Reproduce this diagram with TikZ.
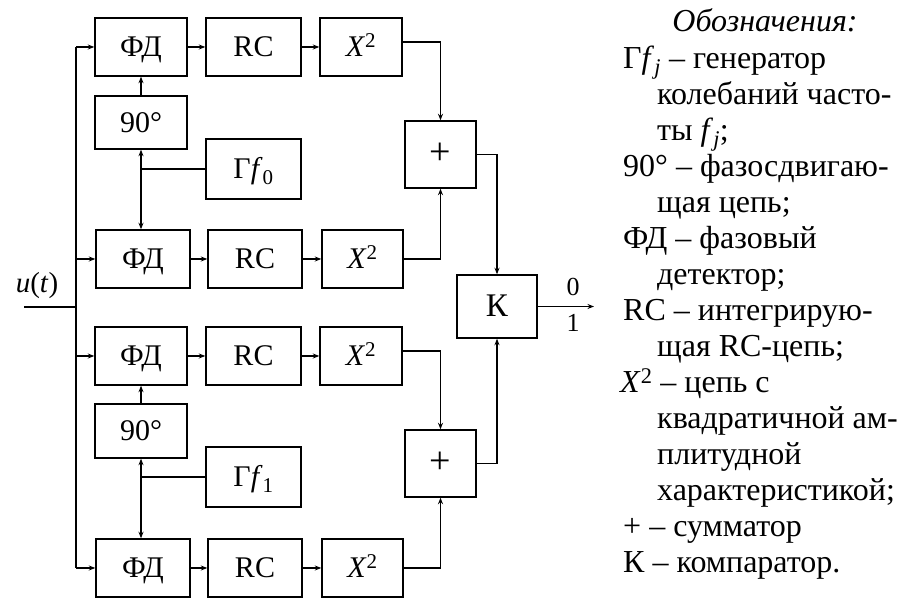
\documentclass[tikz,border=0pt]{standalone}
\usepackage{fontspec}
\setmainfont{Liberation Serif}
\usetikzlibrary{arrows.meta}
\begin{document}
\begin{tikzpicture}[x=1pt,y=-1pt,
  blk/.style={draw,line width=1.4pt,inner sep=0pt,text height=20pt,text depth=0pt,font=\fontsize{30}{32}\selectfont},
  wire/.style={line width=1.3pt},
  arr/.style={wire,-{Stealth[length=6.5pt,width=5pt]}},
  lab/.style={inner sep=0pt,font=\fontsize{26}{28}\selectfont},
  leg/.style={anchor=base west,inner sep=0pt,font=\fontsize{32}{36}\selectfont}]
\useasboundingbox (0,0) rectangle (898,601);
% blocks, upper half
\node[blk,minimum width=92pt,minimum height=58pt] (fd1) at (141,47) {ФД};
\node[blk,minimum width=95pt,minimum height=58pt] (rc1) at (253.5,47) {RC};
\node[blk,minimum width=82pt,minimum height=58pt] (xx1) at (361,47) {\textit{X}\textsuperscript{2}};
\node[blk,minimum width=92pt,minimum height=53pt] (ph1) at (141,122.5) {90°};
\node[blk,minimum width=95pt,minimum height=60pt] (g0) at (253.5,169) {Г\textit{f}\textsubscript{0}};
\node[blk,minimum width=94pt,minimum height=58pt] (fd2) at (143,259) {ФД};
\node[blk,minimum width=94pt,minimum height=58pt] (rc2) at (255,259) {RC};
\node[blk,minimum width=81pt,minimum height=58pt] (xx2) at (362.5,259) {\textit{X}\textsuperscript{2}};
\node[blk,minimum width=71pt,minimum height=67pt,font=\fontsize{38}{40}\selectfont] (s1) at (440.5,154.5) {+};
% comparator
\node[blk,minimum width=80pt,minimum height=63pt,font=\fontsize{33}{35}\selectfont] (k) at (497,306.5) {К};
% blocks, lower half
\node[blk,minimum width=92pt,minimum height=58pt] (fd3) at (141,356) {ФД};
\node[blk,minimum width=95pt,minimum height=58pt] (rc3) at (253.5,356) {RC};
\node[blk,minimum width=82pt,minimum height=58pt] (xx3) at (361,356) {\textit{X}\textsuperscript{2}};
\node[blk,minimum width=92pt,minimum height=54pt] (ph2) at (141,431) {90°};
\node[blk,minimum width=95pt,minimum height=60pt] (g1) at (253.5,477) {Г\textit{f}\textsubscript{1}};
\node[blk,minimum width=94pt,minimum height=58pt] (fd4) at (143,568) {ФД};
\node[blk,minimum width=94pt,minimum height=58pt] (rc4) at (255,568) {RC};
\node[blk,minimum width=81pt,minimum height=58pt] (xx4) at (362.5,568) {\textit{X}\textsuperscript{2}};
\node[blk,minimum width=71pt,minimum height=67pt,font=\fontsize{38}{40}\selectfont] (s2) at (440.5,463.5) {+};
% input and bus
\coordinate (in) at (24,307);
\coordinate (b1) at (76,47);
\coordinate (b4) at (76,568);
\node[lab,anchor=base,font=\fontsize{29}{31}\selectfont] (u) at (37,293) {\textit{u}(\textit{t})};
\draw[wire] (in) -- (in -| b1);
\draw[wire] (b1) -- (b4);
\draw[arr] (b1) -- (fd1.west);
\draw[arr] (b1 |- fd2.west) -- (fd2.west);
\draw[arr] (b1 |- fd3.west) -- (fd3.west);
\draw[arr] (b4) -- (fd4.west);
% chains
\draw[arr] (fd1) -- (rc1);
\draw[arr] (rc1) -- (xx1);
\draw[arr] (fd2) -- (rc2);
\draw[arr] (rc2) -- (xx2);
\draw[arr] (fd3) -- (rc3);
\draw[arr] (rc3) -- (xx3);
\draw[arr] (fd4) -- (rc4);
\draw[arr] (rc4) -- (xx4);
% phase shifters and generators
\draw[arr] (ph1) -- (fd1);
\coordinate (j0) at (ph1.south |- g0.west);
\draw[wire] (g0.west) -- (j0);
\draw[arr] (j0) -- (ph1.south);
\draw[arr] (j0) -- (j0 |- fd2.north);
\draw[arr] (ph2) -- (fd3);
\coordinate (j1) at (ph2.south |- g1.west);
\draw[wire] (g1.west) -- (j1);
\draw[arr] (j1) -- (ph2.south);
\draw[arr] (j1) -- (j1 |- fd4.north);
% to adders
\draw[arr] ([yshift=5pt]xx1.east) -| (s1.north);
\draw[arr] (xx2.east) -| (s1.south);
\draw[arr] ([yshift=5pt]xx3.east) -| (s2.north);
\draw[arr] (xx4.east) -| (s2.south);
% to comparator
\draw[arr] (s1.east) -| (k.north);
\draw[arr] (s2.east) -| (k.south);
\coordinate (out) at (594,306.5);
\draw[arr] (k.east) -- (out);
\node[lab] (o0) at (573,287) {0};
\node[lab] (o1) at (573,323) {1};
% legend
\node[leg,anchor=base] (leg0) at (765,32) {\textit{Обозначения:}};
\node[leg] (leg1) at (623,68.1) {Г\textit{f}\textsubscript{\textit{j}} – генератор};
\node[leg] (leg2) at (657,104.1) {колебаний часто-};
\node[leg] (leg3) at (657,140.2) {ты \textit{f}\textsubscript{\textit{j}};};
\node[leg] (leg4) at (623,176.3) {90° – фазосдвигаю-};
\node[leg] (leg5) at (657,212.4) {щая цепь;};
\node[leg] (leg6) at (623,248.4) {ФД – фазовый};
\node[leg] (leg7) at (657,284.5) {детектор;};
\node[leg] (leg8) at (623,320.6) {RC – интегрирую-};
\node[leg] (leg9) at (657,356.6) {щая RC-цепь;};
\node[leg] (leg10) at (620,392.7) {\textit{X}\textsuperscript{2} – цепь с};
\node[leg] (leg11) at (657,428.8) {квадратичной ам-};
\node[leg] (leg12) at (657,464.8) {плитудной};
\node[leg] (leg13) at (657,500.9) {характеристикой;};
\node[leg] (leg14) at (623,537) {+ – сумматор};
\node[leg] (leg15) at (623,573) {К – компаратор.};
\end{tikzpicture}
\end{document}
